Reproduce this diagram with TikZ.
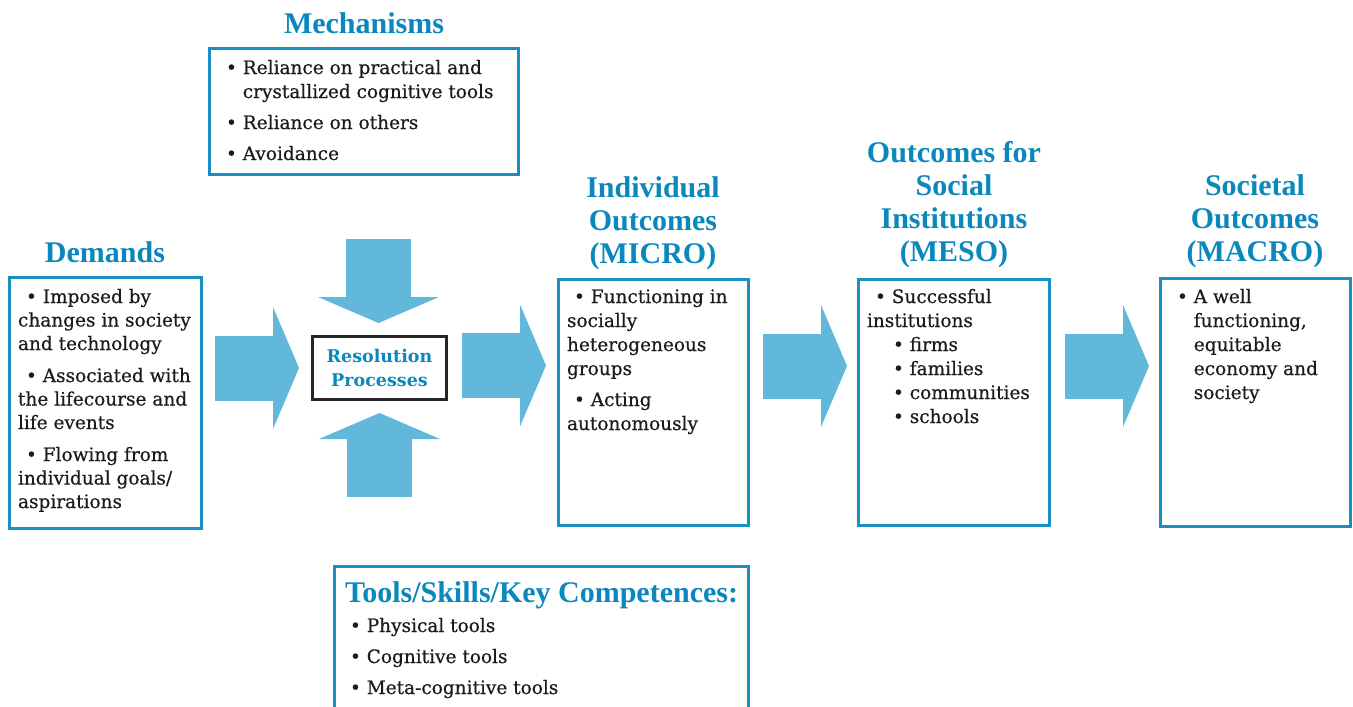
\documentclass[tikz,border=0pt]{standalone}
\usepackage{fontspec}
\setmainfont{DejaVu Serif}
\newfontfamily\bodyfont{DejaVu Serif}[FakeBold=0.5]
\newfontfamily\headfont{Liberation Serif}
\definecolor{headblue}{HTML}{0A88BE}
\definecolor{boxblue}{HTML}{1A8FC3}
\definecolor{arrowblue}{HTML}{62B8DB}
\definecolor{inkblack}{HTML}{1E1A1B}
\newcommand\bul{\textbullet\ }
\newcommand\hng{\hphantom{\textbullet\ }}
\newcommand\cl[1]{\hbox to 260pt{\hss#1\hss}}
\begin{document}
\begin{tikzpicture}[x=1pt,y=-1pt,
  every node/.style={inner sep=0pt,outer sep=0pt},
  bluebox/.style={draw=boxblue,line width=3pt},
  resbox/.style={draw=black!85,line width=2.5pt,minimum width=134pt,minimum height=63pt,
    align=center,text=headblue,font=\bfseries\fontsize{17.5}{24}\selectfont},
  bodytext/.style={anchor=base west,text=inkblack,font=\bodyfont\fontsize{18.5}{24}\selectfont},
  headtext/.style={anchor=base,text=headblue,font=\headfont\bfseries\fontsize{30}{33}\selectfont},
  rarr/.pic={\fill[arrowblue] (0,-32.5) rectangle (58,32.5);
             \fill[arrowblue] (58,-61) -- (84,0) -- (58,61) -- cycle;},
  darr/.pic={\fill[arrowblue] (-32.5,0) rectangle (32.5,58);
             \fill[arrowblue] (-60.5,58) -- (0,84) -- (60.5,58) -- cycle;}]
\useasboundingbox (0,0) rectangle (1353,707);
\clip (0,0) rectangle (1353,707);
\fill[white] (0,0) rectangle (1353,707);

% boxes
\node[bluebox,minimum width=192pt,minimum height=251pt] (dem) at (105.5,403) {};
\node[bluebox,minimum width=309pt,minimum height=126pt] (mech) at (364,111.5) {};
\node[bluebox,minimum width=190pt,minimum height=246pt] (micro) at (653.5,402.5) {};
\node[bluebox,minimum width=191pt,minimum height=246pt] (meso) at (954,402.5) {};
\node[bluebox,minimum width=190pt,minimum height=248pt] (macro) at (1255.5,402.5) {};
\node[bluebox,minimum width=414pt,minimum height=200pt] (tools) at (541.5,666.5) {};
\node[resbox] (res) at (379.5,368) {Resolution\\Processes};

% block arrows
\pic at (215,368) {rarr};
\pic at (462,365.5) {rarr};
\pic at (763,366) {rarr};
\pic at (1065,366) {rarr};
\pic at (378.5,239) {darr};
\pic[rotate=180] at (379.5,497) {darr};

% headings
\node[headtext] (demh) at (105,262) {Demands};
\node[headtext] (mechh) at (364,33) {Mechanisms};
\node[headtext] (microh) at (653,197) {\vtop{\cl{Individual}\cl{Outcomes}\cl{(MICRO)}}};
\node[headtext] (mesoh) at (954,162) {\vtop{\cl{Outcomes for}\cl{Social}\cl{Institutions}\cl{(MESO)}}};
\node[headtext] (macroh) at (1255,195) {\vtop{\cl{Societal}\cl{Outcomes}\cl{(MACRO)}}};
\node[headtext,anchor=base west] (toolsh) at (345,602) {Tools/Skills/Key Competences:};

% body texts
\node[bodytext] (demt) at (18,303) {\vtop{\baselineskip=23.5pt
  \hbox{\hspace*{8pt}\bul Imposed by}
  \hbox{changes in society}
  \hbox{and technology}
  \vskip 8.5pt
  \hbox{\hspace*{8pt}\bul Associated with}
  \hbox{the lifecourse and}
  \hbox{life events}
  \vskip 8.5pt
  \hbox{\hspace*{8pt}\bul Flowing from}
  \hbox{individual goals/}
  \hbox{aspirations}}};
\node[bodytext] (mecht) at (226,74) {\vtop{
  \hbox{\bul Reliance on practical and}
  \hbox{\hng crystallized cognitive tools}
  \vskip 7pt
  \hbox{\bul Reliance on others}
  \vskip 7pt
  \hbox{\bul Avoidance}}};
\node[bodytext] (microt) at (567,303) {\vtop{
  \hbox{\hspace*{7pt}\bul Functioning in}
  \hbox{socially}
  \hbox{heterogeneous}
  \hbox{groups}
  \vskip 7pt
  \hbox{\hspace*{7pt}\bul Acting}
  \hbox{autonomously}}};
\node[bodytext] (mesot) at (867,303) {\vtop{
  \hbox{\hspace*{8pt}\bul Successful}
  \hbox{institutions}
  \hbox{\hspace*{26pt}\bul firms}
  \hbox{\hspace*{26pt}\bul families}
  \hbox{\hspace*{26pt}\bul communities}
  \hbox{\hspace*{26pt}\bul schools}}};
\node[bodytext] (macrot) at (1177,303) {\vtop{
  \hbox{\bul A well}
  \hbox{\hng functioning,}
  \hbox{\hng equitable}
  \hbox{\hng economy and}
  \hbox{\hng society}}};
\node[bodytext] (toolst) at (350,632) {\vtop{
  \hbox{\bul Physical tools}
  \vskip 7pt
  \hbox{\bul Cognitive tools}
  \vskip 7pt
  \hbox{\bul Meta-cognitive tools}}};
\end{tikzpicture}
\end{document}
